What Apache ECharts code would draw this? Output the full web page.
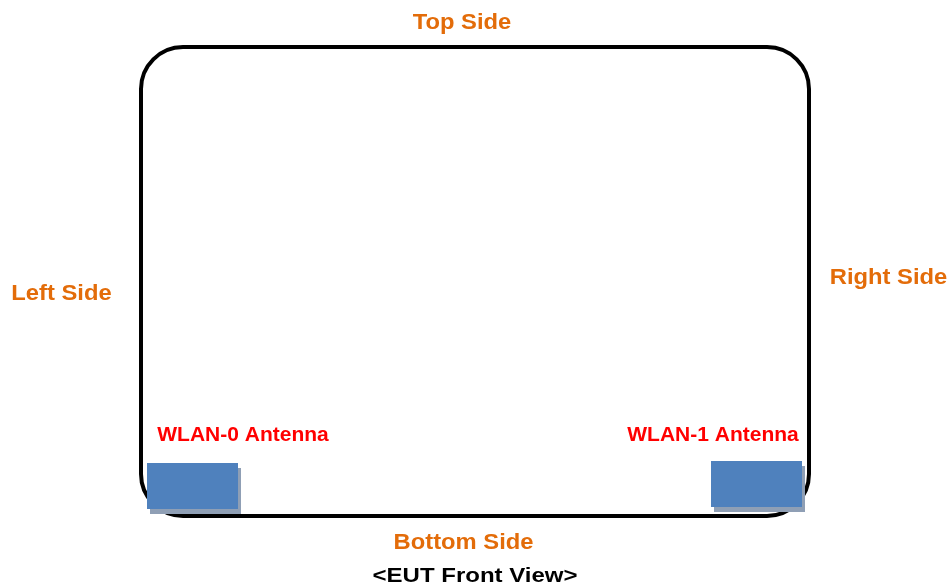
<!DOCTYPE html>
<html>
<head>
<meta charset="utf-8">
<script src="https://cdn.jsdelivr.net/npm/echarts@6/dist/echarts.min.js"></script>
<style>html,body{margin:0;padding:0;background:#fff}#c{width:952px;height:588px}</style>
</head>
<body>
<div id="c"></div>
<script>
// Diagram values (in diagram units = page pixels via hidden value axes)
var outline = [[141, 47, 809, 516]];            // device body: x0, y0, x1, y1
var antennaNames = ['WLAN-0 Antenna', 'WLAN-1 Antenna'];
var antennaBoxes = [[147, 463, 238, 509], [711, 461, 802, 507]];
var antennaLabelPos = [[243, 435.5], [713, 435.5]];
var sideNames = ['Top Side', 'Left Side', 'Right Side', 'Bottom Side'];
var sidePos = [[462, 22.5], [61.5, 294], [888.5, 278], [463.5, 542.5]];
var captionText = ['<EUT Front View>'];
var captionPos = [[475, 576.5]];

var chart = echarts.init(document.getElementById('c'), null, {renderer: 'canvas'});
var FONT = 'Liberation Sans, Arial, sans-serif';

function textSeries(names, pos, color, size, sx) {
  return {
    type: 'custom',
    silent: true,
    data: names.map(function (n, i) { return [pos[i][0], pos[i][1], n]; }),
    renderItem: function (params, api) {
      var p = api.coord([api.value(0), api.value(1)]);
      return {
        type: 'text',
        x: p[0], y: p[1],
        scaleX: sx,
        style: {
          text: names[params.dataIndex],
          fill: color,
          font: 'bold ' + size + 'px ' + FONT,
          align: 'center',
          verticalAlign: 'middle'
        }
      };
    }
  };
}

chart.setOption({
  animation: false,
  grid: {left: 0, right: 0, top: 0, bottom: 0},
  xAxis: {type: 'value', min: 0, max: 952, show: false},
  yAxis: {type: 'value', min: 0, max: 588, inverse: true, show: false},
  series: [
    {
      type: 'custom',
      silent: true,
      data: outline,
      renderItem: function (params, api) {
        var a = api.coord([api.value(0), api.value(1)]);
        var b = api.coord([api.value(2), api.value(3)]);
        return {
          type: 'rect',
          shape: {x: a[0], y: a[1], width: b[0] - a[0], height: b[1] - a[1], r: 42},
          style: {fill: 'none', stroke: '#000', lineWidth: 4}
        };
      }
    },
    {
      type: 'custom',
      silent: true,
      data: antennaBoxes,
      renderItem: function (params, api) {
        var a = api.coord([api.value(0), api.value(1)]);
        var b = api.coord([api.value(2), api.value(3)]);
        var w = b[0] - a[0], h = b[1] - a[1];
        return {
          type: 'group',
          children: [
            {type: 'rect', shape: {x: a[0] + 3, y: a[1] + 5, width: w, height: h}, style: {fill: '#8f9fb5'}},
            {type: 'rect', shape: {x: a[0], y: a[1], width: w, height: h}, style: {fill: '#4f81bd'}}
          ]
        };
      }
    },
    textSeries(antennaNames, antennaLabelPos, '#ff0000', 20, 1.05),
    textSeries(sideNames, sidePos, '#e36c09', 22, 1.08),
    textSeries(captionText, captionPos, '#000000', 20, 1.2)
  ]
});
</script>
</body>
</html>
